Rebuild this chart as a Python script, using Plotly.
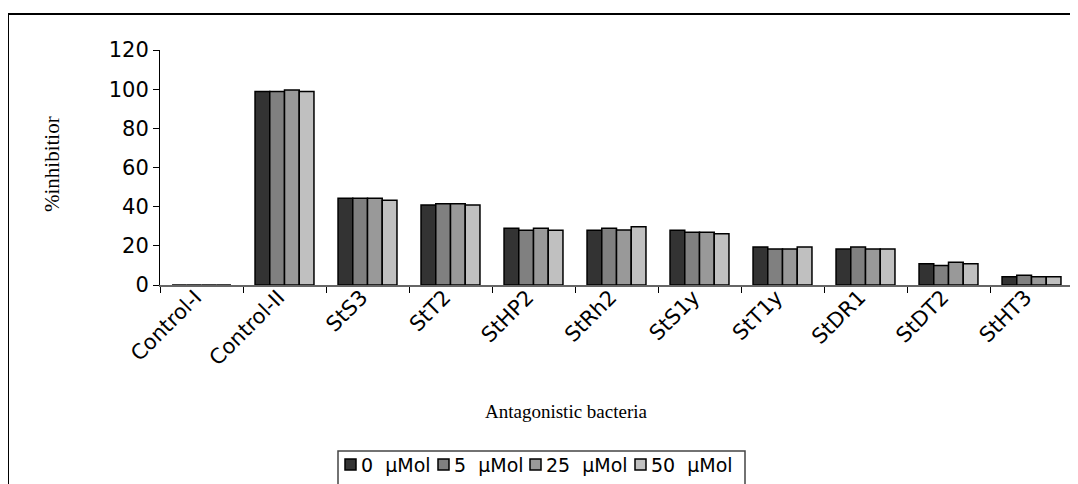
import plotly.graph_objects as go

categories = ["Control-I", "Control-II", "StS3", "StT2", "StHP2", "StRh2",
              "StS1y", "StT1y", "StDR1", "StDT2", "StHT3"]
series_names = ["0  µMol", "5  µMol", "25  µMol", "50  µMol"]
v0 = [0, 98.8, 44.3, 40.9, 29.0, 28.0, 28.0, 19.4, 18.4, 10.9, 4.2]
v5 = [0, 98.8, 44.3, 41.5, 28.0, 29.0, 27.0, 18.4, 19.4, 9.9, 5.0]
v25 = [0, 99.6, 44.3, 41.5, 29.0, 28.1, 27.0, 18.4, 18.4, 11.6, 4.2]
v50 = [0, 98.8, 43.3, 40.9, 28.0, 29.8, 26.2, 19.4, 18.4, 10.9, 4.2]
colors = ["#333333", "#808080", "#999999", "#c0c0c0"]
y_ticks = [0, 20, 40, 60, 80, 100, 120]

SANS = "DejaVu Sans"
SERIF = "Liberation Serif, Times New Roman"

fig = go.Figure()
for name, vals, col in zip(series_names, [v0, v5, v25, v50], colors):
    fig.add_trace(go.Bar(x=categories, y=vals, name=name, showlegend=False,
                         marker=dict(color=col, line=dict(color="black", width=1.5))))

# the page body has an 8px margin, so the figure starts at page (8, 8)
OFF = 8
W, H = 1078 - OFF, 484 - OFF
PL, PR, PT, PB = 160, 1073, 50, 285          # plot area in page pixels
L, R, T, B = PL - OFF, W - (PR - OFF), PT - OFF, H - (PB - OFF)
pw, ph = W - L - R, H - T - B


def px(x):
    return (x - OFF - L) / pw


def py(y):
    return (H - B - (y - OFF)) / ph


shapes = [dict(type="rect", xref="paper", yref="paper",
               x0=px(8), x1=px(1095), y0=py(14), y1=py(520),
               line=dict(color="black", width=2), fillcolor="rgba(0,0,0,0)", layer="below"),
          dict(type="rect", xref="paper", yref="paper",
               x0=px(338), x1=px(745), y0=py(451), y1=py(520),
               line=dict(color="#444444", width=1.5), fillcolor="white", layer="below")]

annotations = [
    dict(text="%inhibitior", x=px(52), y=py(164), xref="paper", yref="paper",
         xanchor="center", yanchor="middle", showarrow=False, textangle=-90,
         font=dict(family=SERIF, size=21, color="black")),
    dict(text="Antagonistic bacteria", x=px(566), y=py(411), xref="paper", yref="paper",
         xanchor="center", yanchor="middle", showarrow=False,
         font=dict(family=SERIF, size=19, color="black")),
]

# custom legend entries (symbol + label) laid out like the reference
leg_sym_x = [345, 438, 530, 635]
for name, col, sx in zip(series_names, colors, leg_sym_x):
    shapes.append(dict(type="rect", xref="paper", yref="paper",
                       x0=px(sx), x1=px(sx + 11), y0=py(470), y1=py(459),
                       line=dict(color="black", width=1.5), fillcolor=col))
    annotations.append(dict(text=name, x=px(sx + 14), y=py(465), xref="paper", yref="paper",
                            xanchor="left", yanchor="middle", showarrow=False,
                            font=dict(family=SANS, size=19, color="black")))

fig.update_layout(
    width=W, height=H,
    margin=dict(l=L, r=R, t=T, b=B, autoexpand=False),
    paper_bgcolor="white", plot_bgcolor="white",
    barmode="group", bargap=0.29, bargroupgap=0,
    font=dict(family=SANS, color="black"),
    showlegend=False,
    xaxis=dict(type="category", showline=True, linecolor="#666666", linewidth=1.5,
               ticks="outside", tickson="boundaries", ticklen=6, tickcolor="black",
               tickangle=-45, tickfont=dict(size=21, family=SANS),
               ticklabelshift=-6, ticklabelstandoff=-10,
               showgrid=False, automargin=False),
    yaxis=dict(range=[0, 120], tickvals=y_ticks, showline=True, linecolor="black", linewidth=1,
               ticks="outside", ticklen=6, tickcolor="black", showgrid=False, zeroline=False,
               tickfont=dict(size=21, family=SANS), automargin=False),
    shapes=shapes,
    annotations=annotations,
)

fig.write_html("out.html")
